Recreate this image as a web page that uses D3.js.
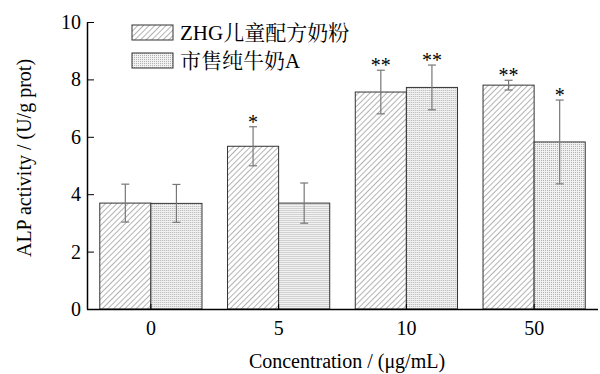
<!DOCTYPE html>
<html>
<head>
<meta charset="utf-8">
<script src="https://cdn.jsdelivr.net/npm/d3@7"></script>
<style>
  body { margin: 0; background: #fff; }
</style>
</head>
<body>
<svg id="chart" width="600" height="374"></svg>
<script>
// data
var concentrations = ["0", "5", "10", "50"];
var seriesNames = ["ZHG儿童配方奶粉", "市售纯牛奶A"];
var zhgValues = [3.69, 5.67, 7.56, 7.80];
var zhgErrors = [0.66, 0.68, 0.76, 0.17];
var milkValues = [3.68, 3.69, 7.72, 5.82];
var milkErrors = [0.66, 0.70, 0.78, 1.46];
var zhgMarks = ["", "*", "**", "**"];
var milkMarks = ["", "", "**", "*"];
var yTicks = [0, 2, 4, 6, 8, 10];

var fontStack = "'Liberation Serif', 'Noto Serif CJK SC', serif";

var svg = d3.select("#chart"),
    margin = {top: 22, right: 2, bottom: 65, left: 87},
    width = +svg.attr("width") - margin.left - margin.right,
    height = +svg.attr("height") - margin.top - margin.bottom,
    g = svg.append("g").attr("transform", "translate(" + margin.left + "," + margin.top + ")");

// fill patterns
var defs = svg.append("defs");
var hatch = defs.append("pattern")
    .attr("id", "hatch")
    .attr("patternUnits", "userSpaceOnUse")
    .attr("width", 4)
    .attr("height", 4)
    .attr("patternTransform", "rotate(45)");
hatch.append("rect").attr("width", 4).attr("height", 4).attr("fill", "#fff");
hatch.append("line")
    .attr("x1", 0).attr("y1", 0).attr("x2", 0).attr("y2", 4)
    .attr("stroke", "#808080").attr("stroke-width", 1.2);

var dots = defs.append("pattern")
    .attr("id", "dots")
    .attr("patternUnits", "userSpaceOnUse")
    .attr("width", 2)
    .attr("height", 2);
dots.append("rect").attr("width", 2).attr("height", 2).attr("fill", "#f2f2f2");
dots.append("rect").attr("width", 1).attr("height", 1).attr("fill", "#b0b0b0");

var fills = ["url(#hatch)", "url(#dots)"];

var data = concentrations.map(function(c, i) {
  return {
    conc: c,
    bars: [
      {key: 0, value: zhgValues[i], err: zhgErrors[i], mark: zhgMarks[i]},
      {key: 1, value: milkValues[i], err: milkErrors[i], mark: milkMarks[i]}
    ]
  };
});

// scales
var x0 = d3.scaleBand()
    .domain(concentrations)
    .range([0, width])
    .paddingInner(0.2)
    .paddingOuter(0.1);

var x1 = d3.scaleBand()
    .domain([0, 1])
    .range([0, x0.bandwidth()]);

var y = d3.scaleLinear()
    .domain([0, 10])
    .range([height, 0]);

// bars
var groups = g.selectAll(".group")
  .data(data)
  .enter().append("g")
    .attr("class", "group")
    .attr("transform", function(d) { return "translate(" + x0(d.conc) + ",0)"; });

groups.selectAll("rect")
  .data(function(d) { return d.bars; })
  .enter().append("rect")
    .attr("x", function(d) { return x1(d.key); })
    .attr("y", function(d) { return y(d.value); })
    .attr("width", x1.bandwidth())
    .attr("height", function(d) { return height - y(d.value); })
    .attr("fill", function(d) { return fills[d.key]; })
    .attr("stroke", "#333")
    .attr("stroke-width", 1);

// error bars
var eb = groups.selectAll(".err")
  .data(function(d) { return d.bars; })
  .enter().append("g")
    .attr("class", "err")
    .attr("stroke", "#777")
    .attr("stroke-width", 1.2);

eb.append("line")
    .attr("x1", function(d) { return x1(d.key) + x1.bandwidth() / 2; })
    .attr("x2", function(d) { return x1(d.key) + x1.bandwidth() / 2; })
    .attr("y1", function(d) { return y(d.value + d.err); })
    .attr("y2", function(d) { return y(d.value - d.err); });

[1, -1].forEach(function(s) {
  eb.append("line")
      .attr("x1", function(d) { return x1(d.key) + x1.bandwidth() / 2 - 4; })
      .attr("x2", function(d) { return x1(d.key) + x1.bandwidth() / 2 + 4; })
      .attr("y1", function(d) { return y(d.value + s * d.err); })
      .attr("y2", function(d) { return y(d.value + s * d.err); });
});

// significance marks
groups.selectAll(".mark")
  .data(function(d) { return d.bars; })
  .enter().append("text")
    .attr("class", "mark")
    .attr("x", function(d) { return x1(d.key) + x1.bandwidth() / 2; })
    .attr("y", function(d) { return y(d.value + d.err) + 2; })
    .attr("text-anchor", "middle")
    .style("font-size", "20px")
    .text(function(d) { return d.mark; });

// x axis
var xAxis = g.append("g")
    .attr("transform", "translate(0," + height + ")")
    .call(d3.axisBottom(x0).tickSizeInner(-5).tickSizeOuter(0).tickPadding(12));
xAxis.select(".domain").attr("d", "M0,0.5H" + width).attr("stroke", "#000").attr("stroke-width", 1.5);
xAxis.selectAll("text").style("font-size", "20px");

// y axis
var yAxis = g.append("g")
    .call(d3.axisLeft(y).tickValues(yTicks).tickSizeInner(-7).tickSizeOuter(0).tickPadding(6));
yAxis.select(".domain").attr("stroke", "#000").attr("stroke-width", 1.5);
yAxis.selectAll("text").style("font-size", "20px");

// axis titles
svg.append("text")
    .attr("x", 347)
    .attr("y", 368)
    .attr("text-anchor", "middle")
    .style("font-size", "20px")
    .text("Concentration / (μg/mL)");

svg.append("text")
    .attr("transform", "translate(31," + 158 + ") rotate(-90)")
    .attr("text-anchor", "middle")
    .style("font-size", "20px")
    .text("ALP activity / (U/g prot)");

// legend
var legend = svg.append("g")
    .attr("transform", "translate(132,25)");

var items = legend.selectAll(".item")
  .data(seriesNames)
  .enter().append("g")
    .attr("class", "item")
    .attr("transform", function(d, i) { return "translate(0," + (i * 28) + ")"; });

items.append("rect")
    .attr("width", 41)
    .attr("height", 15)
    .attr("fill", function(d, i) { return fills[i]; })
    .attr("stroke", "#333")
    .attr("stroke-width", 1);

items.append("text")
    .attr("x", 48)
    .attr("y", 15)
    .style("font-size", "21px")
    .text(function(d) { return d; });

svg.selectAll("text")
    .style("font-family", fontStack)
    .attr("fill", "#000");
</script>
</body>
</html>
